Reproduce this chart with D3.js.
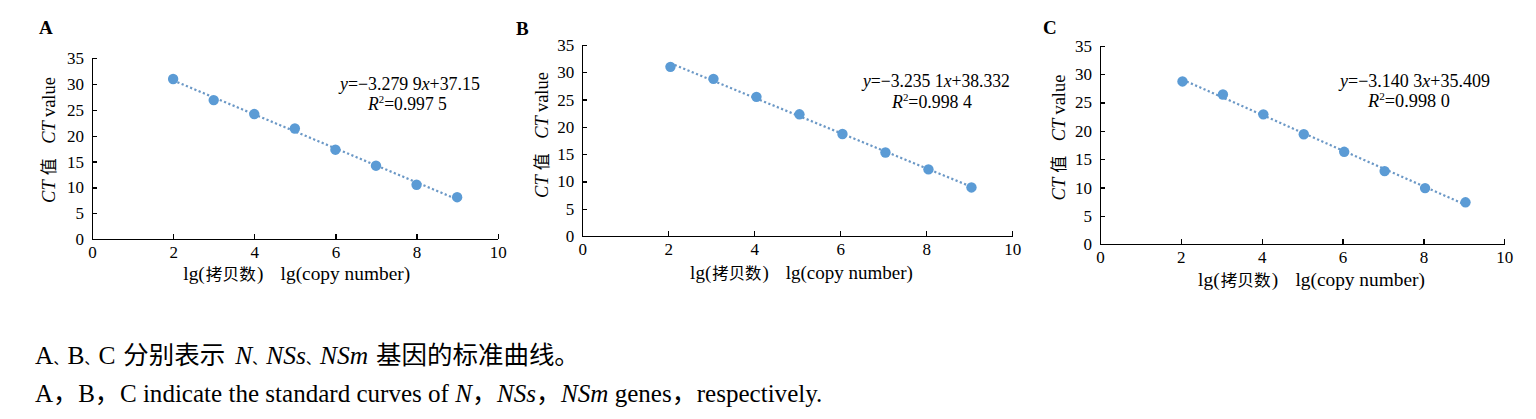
<!DOCTYPE html>
<html>
<head>
<meta charset="utf-8">
<script src="https://cdn.jsdelivr.net/npm/d3@7/dist/d3.min.js"></script>
<style>
  html, body { margin: 0; padding: 0; background: #ffffff; }
  svg { display: block; }
  text { font-family: "Liberation Serif", "Times New Roman", "Noto Sans CJK SC", serif; fill: #000; }
  .cjk { font-family: "Noto Sans CJK SC", "Liberation Serif", sans-serif; }
  .axis path, .axis line { stroke: #000; stroke-width: 1.3px; shape-rendering: crispEdges; }
  .axis text { font-family: "Liberation Serif", "Times New Roman", serif; font-size: 17px; fill: #000; }
</style>
</head>
<body>
<svg id="chart" width="1536" height="419"></svg>
<script>
// ---------------- data ----------------
const panelNames = ["A", "B", "C"];
const xA = [2, 3, 4, 5, 6, 7, 8, 9];
const ctA = [31.0, 26.9, 24.2, 21.4, 17.3, 14.2, 10.5, 8.1];
const xB = [2.05, 3.05, 4.05, 5.05, 6.05, 7.05, 8.05, 9.05];
const ctB = [31.0, 28.8, 25.5, 22.3, 18.7, 15.3, 12.2, 8.9];
const xC = [2.04, 3.04, 4.04, 5.04, 6.04, 7.04, 8.04, 9.04];
const ctC = [28.7, 26.4, 22.9, 19.4, 16.3, 12.9, 9.9, 7.4];
const slopes = ["3.279 9", "3.235 1", "3.140 3"];
const intercepts = ["37.15", "38.332", "35.409"];
const r2Values = ["0.997 5", "0.998 4", "0.998 0"];
const xTicks = [0, 2, 4, 6, 8, 10];
const yTicks = [0, 5, 10, 15, 20, 25, 30, 35];
const xDomain = [0, 10];
const yDomain = [0, 35];
const xTitleCN = "拷贝数";
const xTitleEN = "lg(copy number)";
const yTitleCN = "值";
const yTitleEN = "value";
const captionCN = "分别表示";
const captionCN2 = "基因的标准曲线。";
const geneNames = ["N", "NSs", "NSm"];

const series = [
  { x: xA, y: ctA },
  { x: xB, y: ctB },
  { x: xC, y: ctC }
];

// ---------------- layout (positions only) ----------------
const layout = [
  { left: 92,    right: 497.7,  top: 58.3, bottom: 239,   label: [39, 34],   eq: [340, 89.5, 142], r2: [368, 110, 80],   xt: [296.7, 280, 227], yt: [55, 140, 126] },
  { left: 582.3, right: 1012.3, top: 45,   bottom: 236,   label: [516, 35],  eq: [863, 87, 149],   r2: [892, 107.5, 81], xt: [801.5, 278.5, 223], yt: [548, 135, 126] },
  { left: 1100,  right: 1504.3, top: 45.7, bottom: 244.3, label: [1043, 34], eq: [1340, 87, 152],  r2: [1368, 107, 83],  xt: [1311.5, 286, 227], yt: [1065, 137.5, 126] }
];

const dotColor = "#5b9bd5";
const svg = d3.select("#chart");

function fitStart(g, text, x, y, w) {
  const bw = text.node().getBBox().width;
  g.attr("transform", `translate(${x},${y}) scale(${w / bw},1)`);
}
function fitMiddle(g, text, x, y, w, rot) {
  const bw = text.node().getBBox().width;
  g.attr("transform", `translate(${x},${y})${rot ? " rotate(-90)" : ""} scale(${w / bw},1)`);
}

function linFit(xs, ys) {
  const mx = d3.mean(xs), my = d3.mean(ys);
  let sxy = 0, sxx = 0;
  xs.forEach((v, i) => { sxy += (v - mx) * (ys[i] - my); sxx += (v - mx) * (v - mx); });
  const b = sxy / sxx;
  return { b, a: my - b * mx };
}

panelNames.forEach((name, i) => {
  const L = layout[i];
  const s = series[i];
  const x = d3.scaleLinear().domain(xDomain).range([L.left, L.right]);
  const y = d3.scaleLinear().domain(yDomain).range([L.bottom, L.top]);
  const g = svg.append("g");

  // axes
  g.append("g").attr("class", "axis")
    .attr("transform", `translate(0,${L.bottom})`)
    .call(d3.axisBottom(x).tickValues(xTicks).tickFormat(d3.format("d"))
      .tickSizeInner(-5).tickSizeOuter(0).tickPadding(7));
  g.append("g").attr("class", "axis")
    .attr("transform", `translate(${L.left},0)`)
    .call(d3.axisLeft(y).tickValues(yTicks).tickFormat(d3.format("d"))
      .tickSizeInner(-5).tickSizeOuter(0).tickPadding(8));
  g.selectAll(".axis text").attr("fill", "#000");

  // trendline
  const fit = linFit(s.x, s.y);
  const x0 = d3.min(s.x), x1 = d3.max(s.x);
  g.append("line")
    .attr("x1", x(x0)).attr("y1", y(fit.a + fit.b * x0))
    .attr("x2", x(x1)).attr("y2", y(fit.a + fit.b * x1))
    .attr("stroke", "#6b98c6").attr("stroke-width", 2.2)
    .attr("stroke-dasharray", "2.2,2.4");

  // points
  g.selectAll("circle.pt").data(s.x.map((v, j) => [v, s.y[j]])).enter()
    .append("circle").attr("class", "pt")
    .attr("cx", d => x(d[0])).attr("cy", d => y(d[1]))
    .attr("r", 5.2).attr("fill", dotColor);

  // panel label
  g.append("text").attr("x", L.label[0]).attr("y", L.label[1])
    .attr("font-size", 19).attr("font-weight", "bold").text(name);

  // equation
  const eg = g.append("g");
  const et = eg.append("text").attr("font-size", 18);
  et.append("tspan").attr("font-style", "italic").text("y");
  et.append("tspan").text("=−" + slopes[i]);
  et.append("tspan").attr("font-style", "italic").text("x");
  et.append("tspan").text("+" + intercepts[i]);
  fitStart(eg, et, L.eq[0], L.eq[1], L.eq[2]);

  const rg = g.append("g");
  const rt = rg.append("text").attr("font-size", 18);
  rt.append("tspan").attr("font-style", "italic").text("R");
  rt.append("tspan").attr("font-size", 11).attr("dy", -7).text("2");
  rt.append("tspan").attr("dy", 7).text("=" + r2Values[i]);
  fitStart(rg, rt, L.r2[0], L.r2[1], L.r2[2]);

  // x title
  const xg = g.append("g");
  const xtt = xg.append("text").attr("font-size", 18).attr("text-anchor", "middle");
  xtt.append("tspan").text("lg(");
  xtt.append("tspan").attr("class", "cjk").attr("font-size", 15.5).attr("dx", 1).text(xTitleCN);
  xtt.append("tspan").attr("dx", 1).text(")");
  xtt.append("tspan").attr("dx", 16).text(xTitleEN);
  fitMiddle(xg, xtt, L.xt[0], L.xt[1], L.xt[2], false);

  // y title
  const yg = g.append("g");
  const ytt = yg.append("text").attr("font-size", 18).attr("text-anchor", "middle");
  ytt.append("tspan").attr("font-style", "italic").text("CT");
  ytt.append("tspan").attr("class", "cjk").attr("font-size", 16.5).attr("dx", 5).text(yTitleCN);
  ytt.append("tspan").attr("font-style", "italic").attr("dx", 14).text("CT");
  ytt.append("tspan").attr("dx", 4).text(yTitleEN);
  fitMiddle(yg, ytt, L.yt[0], L.yt[1], L.yt[2], true);
});

// caption
const sepSize = 14;
const c1g = svg.append("g");
const c1 = c1g.append("text").attr("font-size", 25.5);
c1.append("tspan").text("A");
c1.append("tspan").attr("class", "cjk").attr("font-size", sepSize).text("、");
c1.append("tspan").text("B");
c1.append("tspan").attr("class", "cjk").attr("font-size", sepSize).text("、");
c1.append("tspan").text("C");
c1.append("tspan").attr("class", "cjk").attr("dx", 8).text(captionCN);
c1.append("tspan").attr("font-style", "italic").attr("dx", 10).text(geneNames[0]);
c1.append("tspan").attr("class", "cjk").attr("font-size", sepSize).text("、");
c1.append("tspan").attr("font-style", "italic").text(geneNames[1]);
c1.append("tspan").attr("class", "cjk").attr("font-size", sepSize).text("、");
c1.append("tspan").attr("font-style", "italic").text(geneNames[2]);
c1.append("tspan").attr("class", "cjk").attr("dx", 8).text(captionCN2);
fitStart(c1g, c1, 35, 364, 545);

const c2g = svg.append("g");
const c2 = c2g.append("text").attr("font-size", 25.5);
c2.append("tspan").text("A");
c2.append("tspan").attr("class", "cjk").text("，");
c2.append("tspan").text("B");
c2.append("tspan").attr("class", "cjk").text("，");
c2.append("tspan").text("C indicate the standard curves of ");
c2.append("tspan").attr("font-style", "italic").text(geneNames[0]);
c2.append("tspan").attr("class", "cjk").text("，");
c2.append("tspan").attr("font-style", "italic").text(geneNames[1]);
c2.append("tspan").attr("class", "cjk").text("，");
c2.append("tspan").attr("font-style", "italic").text(geneNames[2]);
c2.append("tspan").text(" genes");
c2.append("tspan").attr("class", "cjk").text("，");
c2.append("tspan").text("respectively.");
fitStart(c2g, c2, 35, 401.7, 788);
</script>
</body>
</html>
